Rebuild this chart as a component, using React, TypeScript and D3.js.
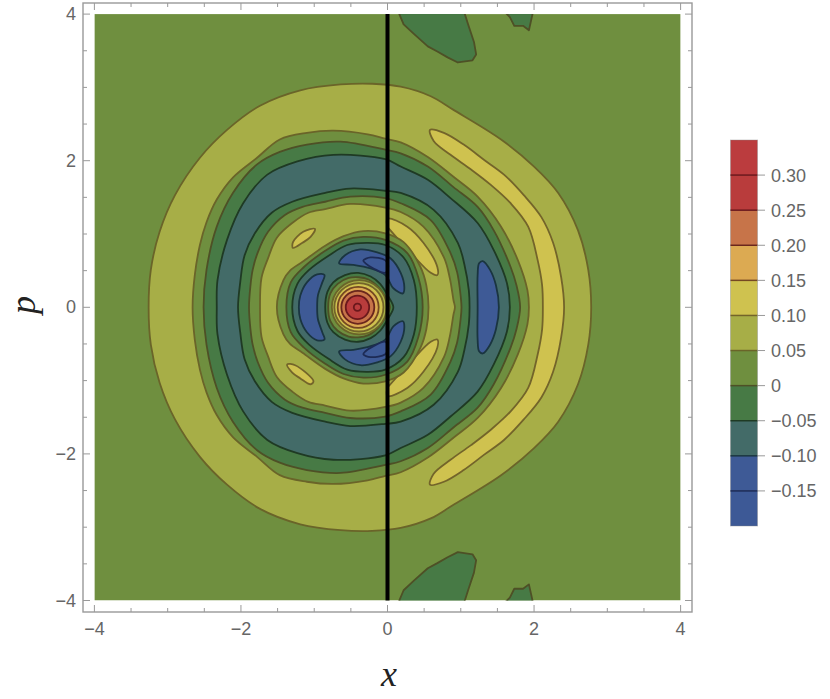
import React from "react";
import * as d3 from "d3";

type Pt = [number, number];

// Contour outlines in data units (x, p). "Half" outlines run over p >= 0 and are mirrored in p.
const outer005: Pt[] = [[-3.26,0],[-3.23,.51],[-3.11,1.03],[-2.9,1.53],[-2.56,2.04],[-2.19,2.42],[-1.74,2.75],[-1.19,2.96],[-.64,3.04],[-.21,3.05],[.18,3.01],[.59,2.88],[.89,2.7],[1.55,2.29],[2,1.92],[2.33,1.56],[2.6,1.05],[2.74,.51],[2.78,0]];
const crescent010: Pt[] = [[2.12,0],[2.11,.3],[2.05,.64],[1.92,1.1],[1.68,1.42],[1.41,1.67],[1.14,1.88],[.86,2.08],[.63,2.27],[.58,2.42],[.77,2.38],[1.04,2.22],[1.32,2.01],[1.59,1.81],[1.86,1.53],[2.1,1.23],[2.26,.88],[2.37,.41],[2.41,0]];
const band005: Pt[] = [[-2.66,0],[-2.63,.44],[-2.56,.85],[-2.47,1.16],[-2.33,1.47],[-2.11,1.77],[-1.78,2.04],[-1.47,2.29],[-1.1,2.38],[-.74,2.41],[-.27,2.36],[-.03,2.3],[.18,2.25],[.55,2.05],[.9,1.78],[1.23,1.51],[1.55,1.1],[1.78,.64],[1.91,.23],[1.93,0]];
const band000: Pt[] = [[-2.51,0],[-2.47,.51],[-2.33,1.1],[-2.11,1.56],[-1.78,1.95],[-1.47,2.12],[-1.1,2.22],[-.64,2.26],[-.03,2.15],[.18,2.1],[.55,1.92],[.9,1.64],[1.23,1.37],[1.45,1.05],[1.68,.55],[1.76,.3],[1.81,0]];
const bandM005: Pt[] = [[-2.33,0],[-2.32,.37],[-2.19,.92],[-1.97,1.42],[-1.64,1.81],[-1.23,1.99],[-.74,2.08],[-.03,2.02],[.18,1.92],[.55,1.74],[.86,1.49],[1.23,1.15],[1.45,.78],[1.63,.33],[1.67,0]];
const rightBlue: Pt[] = [[1.23,0],[1.23,.44],[1.25,.6],[1.3,.63],[1.4,.51],[1.48,.3],[1.52,0]];
const innerM005: Pt[] = [[-2.04,0],[-2.01,.34],[-1.95,.71],[-1.81,1.01],[-1.58,1.29],[-1.3,1.44],[-.85,1.56],[-.51,1.62],[-.03,1.59],[.18,1.56],[.63,1.33],[.96,.88],[1.05,.58],[1.11,.23],[1.12,0]];
const inner000: Pt[] = [[-1.89,0],[-1.87,.3],[-1.84,.51],[-1.77,.75],[-1.63,1.03],[-1.4,1.26],[-1.16,1.37],[-.85,1.44],[-.51,1.51],[-.03,1.49],[.18,1.42],[.59,1.19],[.86,.74],[.95,.48],[1,.14],[1.01,0]];
const inner005: Pt[] = [[-1.74,0],[-1.72,.4],[-1.63,.67],[-1.51,.95],[-1.3,1.15],[-1.08,1.29],[-.85,1.34],[-.51,1.41],[-.03,1.36],[.18,1.3],[.49,1.1],[.77,.68],[.85,.4],[.9,.1],[.92,0]];
const triangle005: Pt[] = [[-1.51,0],[-1.42,.37],[-1.33,.5],[-1.16,.62],[-.85,.84],[-.6,.97],[-.33,1.04],[-.03,1.01],[.22,.89],[.45,.55],[.53,.3],[.56,0]];
const triangle000: Pt[] = [[-1.38,0],[-1.32,.34],[-1.14,.55],[-.85,.77],[-.6,.91],[-.33,.96],[-.03,.92],[.27,.74],[.42,.41],[.48,0]];
const triangleM005: Pt[] = [[-1.3,0],[-1.23,.32],[-1.07,.51],[-.81,.7],[-.55,.85],[-.27,.88],[-.03,.85],[.22,.68],[.36,.37],[.4,0]];
const leftBlue: Pt[] = [[-1.21,0],[-1.19,.16],[-1.1,.34],[-.96,.45],[-.86,.44],[-.89,.34],[-.95,.16],[-.96,0]];
const coreM005: Pt[] = [[-.85,0],[-.82,.21],[-.74,.34],[-.58,.44],[-.4,.47],[-.23,.42],[-.1,.32],[.01,.15],[.08,0]];
const core000: Pt[] = [[-.81,0],[-.78,.19],[-.68,.32],[-.53,.4],[-.4,.41],[-.26,.38],[-.12,.27],[-.03,.14],[.035,0]];

// Closed outlines that appear in the upper half and again, mirrored, in the lower half.
const topBlue: Pt[] = [[-.66,.6],[-.58,.71],[-.37,.79],[-.14,.75],[.04,.67],[.18,.47],[.23,.27],[.21,.19],[.08,.26],[-.03,.44],[-.23,.53],[-.47,.58]];
const topBlueInner: Pt[] = [[-.33,.64],[-.23,.68],[-.03,.64],[.01,.56],[-.03,.47],[-.19,.53],[-.3,.6]];
const rightLens: Pt[] = [[0,1.21],[.27,1.1],[.49,.88],[.68,.55],[.68,.44],[.59,.47],[.32,.74],[.04,1.05],[0,1.1]];
const edgeBlobA: Pt[] = [[.14,4.05],[.22,3.86],[.36,3.73],[.55,3.56],[.68,3.49],[.82,3.41],[.96,3.34],[1.16,3.37],[1.21,3.45],[1.18,3.62],[1.1,3.86],[1.04,4.05]];
const edgeBlobB: Pt[] = [[1.58,4.05],[1.67,3.96],[1.73,3.84],[1.85,3.84],[1.93,3.78],[1.99,4.05]];

// Two small lenses that are not quite mirror images.
const smallLensUpper: Pt[] = [[-.99,1.07],[-1.15,1.03],[-1.29,.89],[-1.29,.81],[-1.16,.88],[-1.05,.96]];
const smallLensLower: Pt[] = [[-1.37,-.78],[-1.26,-.79],[-1.01,-1.01],[-1.05,-1.05],[-1.19,-.97],[-1.3,-.89]];

// Central peak rings.
const ringLevels = [0.05, 0.1, 0.15, 0.2, 0.25, 0.3];
const ringCx = [-.385, -.39, -.4, -.405, -.41, -.41];
const ringRx = [.375, .335, .28, .225, .16, .05];
const ringRy = [.37, .33, .28, .225, .16, .05];

// Contour bands: lower edge of each band, colour, contour line colour.
const bandFloors = [-0.2, -0.15, -0.1, -0.05, 0, 0.05, 0.1, 0.15, 0.2, 0.25, 0.3];
const bandFills = ["#3d5996", "#3e5a96", "#436b68", "#477a45", "#6f8f3f", "#a7ae47", "#cfc24f", "#dcaa52", "#c77449", "#b93c3c", "#bb3c3e"];
const lineColors = ["#1d2b55", "#1d2b55", "#1a3540", "#1f3a24", "#4e5026", "#6a6429", "#73642a", "#754822", "#6a261d", "#6b181c", "#6b181c"];

const xTicks = [-4, -2, 0, 2, 4];
const minorTicks = d3.range(-4, 4.01, 0.5).filter((v) => v % 2 !== 0);
const barTicks = [-0.15, -0.1, -0.05, 0, 0.05, 0.1, 0.15, 0.2, 0.25, 0.3];
const barTickLabels = ["\u22120.15", "\u22120.10", "\u22120.05", "0", "0.05", "0.10", "0.15", "0.20", "0.25", "0.30"];

const fmt = (v: number) => (v < 0 ? "\u2212" + Math.abs(v) : String(v));
const mirrorHalf = (h: Pt[]): Pt[] => [...h, ...h.slice(1, -1).reverse().map(([x, p]) => [x, -p] as Pt)];
const flip = (h: Pt[]): Pt[] => h.map(([x, p]) => [x, -p] as Pt);

const x = d3.scaleLinear().domain([-4, 4]).range([94.4, 680.6]);
const y = d3.scaleLinear().domain([-4, 4]).range([600.5, 14.1]);
const bar = d3.scaleLinear().domain([-0.2, 0.35]).range([526, 140]);

const smooth = d3.line<Pt>().x((d) => x(d[0])).y((d) => y(d[1])).curve(d3.curveCatmullRomClosed.alpha(0.5));
const straight = d3.line<Pt>().x((d) => x(d[0])).y((d) => y(d[1])).curve(d3.curveLinearClosed);

const idx = (level: number) => bandFloors.findIndex((f) => Math.abs(f - level) < 1e-6);

// [outline, level of contour, level of the band it encloses]
const layers: [Pt[], number, number][] = [
  [mirrorHalf(outer005), 0.05, 0.05],
  [mirrorHalf(crescent010), 0.1, 0.1],
  [mirrorHalf(band005), 0.05, 0],
  [mirrorHalf(band000), 0, -0.05],
  [mirrorHalf(bandM005), -0.05, -0.1],
  [mirrorHalf(rightBlue), -0.1, -0.15],
  [mirrorHalf(innerM005), -0.05, -0.05],
  [mirrorHalf(inner000), 0, 0],
  [mirrorHalf(inner005), 0.05, 0.05],
  [rightLens, 0.1, 0.1],
  [flip(rightLens), 0.1, 0.1],
  [smallLensUpper, 0.1, 0.1],
  [smallLensLower, 0.1, 0.1],
  [mirrorHalf(triangle005), 0.05, 0],
  [mirrorHalf(triangle000), 0, -0.05],
  [mirrorHalf(triangleM005), -0.05, -0.1],
  [mirrorHalf(leftBlue), -0.1, -0.15],
  [topBlue, -0.1, -0.15],
  [flip(topBlue), -0.1, -0.15],
  [topBlueInner, -0.15, -0.2],
  [flip(topBlueInner), -0.15, -0.2],
  [mirrorHalf(coreM005), -0.05, -0.05],
  [mirrorHalf(core000), 0, 0],
];
const blobs: Pt[][] = [edgeBlobA, edgeBlobB, flip(edgeBlobA), flip(edgeBlobB)];

const GRAY = "#999999";
const LABEL = "#666666";
const SANS = "'Liberation Sans', Arial, sans-serif";
const CONTOUR = 1.8;

export default function App() {
  const L = 83, R = 692, T = 3, B = 612;
  const barLeft = 730.5, barRight = 757.5;
  return (
    <svg width={830} height={699} style={{ position: "absolute", left: 0, top: 0, background: "#fff" }}>
      <defs>
        <clipPath id="plot"><rect x={x(-4)} y={y(4)} width={x(4) - x(-4)} height={y(-4) - y(4)} /></clipPath>
      </defs>
      <g clipPath="url(#plot)">
        <rect x={x(-4)} y={y(4)} width={x(4) - x(-4)} height={y(-4) - y(4)} fill={bandFills[idx(0)]} />
        {blobs.map((b, i) => (
          <path key={i} d={straight(b) ?? ""} fill={bandFills[idx(-0.05)]} stroke={lineColors[idx(0)]} strokeWidth={CONTOUR} strokeLinejoin="round" />
        ))}
        {layers.map(([pts, line, band], i) => (
          <path key={i} d={smooth(pts) ?? ""} fill={bandFills[idx(band)]} stroke={lineColors[idx(line)]} strokeWidth={CONTOUR} strokeLinejoin="round" />
        ))}
        {ringLevels.map((lv, i) => (
          <ellipse key={lv} cx={x(ringCx[i])} cy={y(0)} rx={x(ringRx[i]) - x(0)} ry={y(0) - y(ringRy[i])}
            fill={bandFills[idx(lv)]} stroke={lineColors[idx(lv)]} strokeWidth={CONTOUR} />
        ))}
      </g>
      <line x1={x(0)} x2={x(0)} y1={y(4)} y2={y(-4)} stroke="#000" strokeWidth={4} />

      <rect x={L} y={T} width={R - L} height={B - T} fill="none" stroke={GRAY} strokeWidth={1.4} />
      {xTicks.map((t) => (
        <g key={t} stroke={GRAY} strokeWidth={1}>
          <line x1={x(t)} x2={x(t)} y1={B} y2={B - 7} />
          <line x1={x(t)} x2={x(t)} y1={T} y2={T + 7} />
          <line y1={y(t)} y2={y(t)} x1={L} x2={L + 7} />
          <line y1={y(t)} y2={y(t)} x1={R} x2={R - 7} />
        </g>
      ))}
      {minorTicks.map((t) => (
        <g key={t} stroke={GRAY} strokeWidth={1}>
          <line x1={x(t)} x2={x(t)} y1={B} y2={B - 4} />
          <line x1={x(t)} x2={x(t)} y1={T} y2={T + 4} />
          <line y1={y(t)} y2={y(t)} x1={L} x2={L + 4} />
          <line y1={y(t)} y2={y(t)} x1={R} x2={R - 4} />
        </g>
      ))}
      <g fontFamily={SANS} fontSize={18} fill={LABEL}>
        {xTicks.map((t) => (
          <text key={t} x={x(t)} y={635} textAnchor="middle">{fmt(t)}</text>
        ))}
        {xTicks.map((t) => (
          <text key={t} x={76} y={y(t) + 6} textAnchor="end">{fmt(t)}</text>
        ))}
      </g>
      <text x={389} y={686} textAnchor="middle" fontFamily="'Liberation Serif', serif" fontStyle="italic" fontSize={36} fill="#222">x</text>
      <text transform="translate(35,305) rotate(-90)" textAnchor="middle" fontFamily="'Liberation Serif', serif" fontStyle="italic" fontSize={36} fill="#222">p</text>

      {bandFloors.map((f, i) => {
        const top = i + 1 < bandFloors.length ? bandFloors[i + 1] : 0.35;
        return <rect key={f} x={barLeft} width={barRight - barLeft} y={bar(top)} height={bar(f) - bar(top)} fill={bandFills[i]} />;
      })}
      <rect x={barLeft} width={barRight - barLeft} y={bar(0.35)} height={bar(-0.2) - bar(0.35)} fill="none" stroke="#888" strokeOpacity={0.4} strokeWidth={1} />
      {barTicks.map((t, i) => (
        <g key={t}>
          <line x1={barLeft} x2={barRight} y1={bar(t)} y2={bar(t)} stroke={lineColors[idx(t)]} strokeWidth={1.5} />
          <line x1={barRight} x2={765} y1={bar(t)} y2={bar(t)} stroke={GRAY} strokeWidth={1} />
          <text x={771} y={bar(t) + 6.5} fontFamily={SANS} fontSize={18} fill={LABEL}>{barTickLabels[i]}</text>
        </g>
      ))}
    </svg>
  );
}
